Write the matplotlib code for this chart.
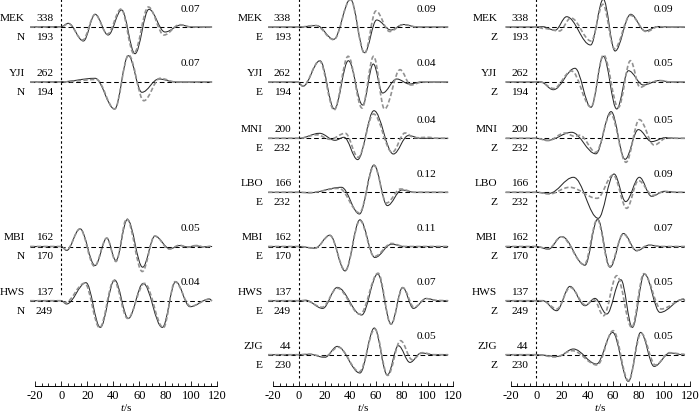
import numpy as np
import matplotlib
matplotlib.use('Agg')
import matplotlib.pyplot as plt
from matplotlib.path import Path
from matplotlib.patches import PathPatch
from matplotlib.ticker import MultipleLocator

plt.rcParams['font.family'] = ['Liberation Serif', 'DejaVu Serif']
plt.rcParams['mathtext.fontset'] = 'custom'
plt.rcParams['mathtext.rm'] = 'Liberation Serif'
plt.rcParams['mathtext.it'] = 'Liberation Serif:italic'
plt.rcParams['axes.unicode_minus'] = False

# ---------------- data ----------------
components = ['N', 'E', 'Z']
stations = ['MEK', 'YJI', 'MNI', 'LBO', 'MBI', 'HWS', 'ZJG']
azimuth = [338, 262, 200, 166, 162, 137, 44]
distance = [193, 194, 232, 232, 170, 249, 230]
col_rows = [[0, 1, 4, 5], [0, 1, 2, 3, 4, 5, 6], [0, 1, 2, 3, 4, 5, 6]]
fit_N = [0.07, 0.07, None, None, 0.05, 0.04, None]
fit_E = [0.09, 0.04, 0.04, 0.12, 0.11, 0.07, 0.05]
fit_Z = [0.09, 0.05, 0.05, 0.09, 0.07, 0.05, 0.05]
time_ticks = [-20, 0, 20, 40, 60, 80, 100, 120]
trace_start = -24.0
trace_end = 116.0

# waveform extrema (t [s], amplitude [px]); obs = dashed grey, syn = solid
MEK_N_obs = [(0, 0), (5.4, 3.3), (16.5, -13), (26, 12.5), (35.5, -7), (46, 18), (55.8, -26.5), (67, 20), (79, -8), (91, 2.3), (100, 0)]
MEK_N_syn = [(0, 0.5), (5.4, 3.7), (17, -14), (26, 12.7), (36, -8), (46.4, 17), (56.7, -26.7), (67.4, 17.7), (79.8, -5), (92, 2), (100, 0)]
YJI_N_obs = [(0, 0), (27, 2.5), (41, -27), (51.8, 27), (63.5, -18.7), (76, 3.7), (88, 0)]
YJI_N_syn = [(0, 0.3), (26, 3.7), (41, -27), (51.6, 26.3), (62, -10.3), (75, 3), (88, 0)]
MBI_N_obs = [(0, 0), (4, -3.5), (14.4, 17.5), (25.5, -19.7), (35, 8.5), (42, -15), (50.3, 27.7), (62.3, -25), (72, 10.5), (83, -2.5), (91, 1.3), (97, -0.8), (104, 1), (110, -0.5), (115, 0.3)]
MBI_N_syn = [(0, 0), (4, -4), (14.4, 17.7), (26, -19), (35, 8.3), (42, -14), (50.8, 27), (62.6, -20.7), (72, 10.3), (83.6, -2.3), (91, 1), (97, -0.5), (103, 0.7), (110, -0.3), (115, 0)]
HWS_N_obs = [(0, 0), (3, -2), (18, 17.5), (29.5, -27), (40.5, 20), (51, -17.7), (64, 17.3), (78.5, -27), (87.5, 19), (99.5, -5.5), (114, 1.5)]
HWS_N_syn = [(0, 0), (4, -3.3), (19, 18), (30, -26.7), (41, 20.7), (51.6, -17.7), (63, 17.3), (77.7, -26.7), (88, 19), (99, -6), (114, 1.7)]

MEK_E_obs = [(0, 0), (13, 1.5), (27, -12.7), (40, 27.5), (51, -26.3), (59.8, 16), (70.5, -4.5), (81, 2.3), (92, 0)]
MEK_E_syn = [(0, 0), (13.7, 1.5), (27, -12.3), (40, 27.7), (51, -25.7), (60.4, 7), (71.5, -3), (81, 2.5), (92, 0)]
YJI_E_obs = [(-1, 0), (3, -4), (16, 21), (27.3, -28), (38.2, 25.7), (49, -26), (58, 25.7), (66.5, -27), (78.6, 12.3), (87, -3), (96, 0)]
YJI_E_syn = [(-1, 0), (3, -4.3), (16.3, 21.3), (27.5, -27), (38.4, 21.3), (49.5, -23), (57.8, 18), (65, -11), (76, 3), (86, -2), (95, 0)]
MNI_E_obs = [(0, 0), (14, 3.5), (24, -1), (36, 5), (46, -19), (58, 24.3), (72.5, -14), (82.4, 5.3), (90, 0.5), (100, 1), (108, 0)]
MNI_E_syn = [(0, 0), (16, 5), (28, -2), (35, 1), (45.6, -21.3), (58.3, 27.6), (73.4, -15.7), (85, 2.7), (95, 0)]
LBO_E_obs = [(0, 0), (8, -0.3), (31, 4), (47, -20.5), (58.5, 26.5), (68, -10.7), (79, 3.3), (90, 0)]
LBO_E_syn = [(0, 0), (8, -0.5), (33, 5), (47, -21.7), (58.3, 27.3), (68.7, -13.3), (80, 2.3), (90, 0)]
MBI_E_obs = [(0, 0), (12.4, -1.7), (24, 11), (36, -24), (47.4, 26), (58.5, -10), (72, 3), (82, 0)]
MBI_E_syn = [(0, 0), (12.4, -1.7), (24, 11.3), (35.8, -24.4), (47.4, 26.7), (59, -11), (72, 2.3), (82, 0)]
HWS_E_obs = [(0, 0), (5, 0), (18, -6.5), (29.8, 12.5), (47.5, -13.5), (61.5, 27.5), (71.6, -23.5), (80.8, 13), (89.5, -6.5), (99, 2), (108, 0.3)]
HWS_E_syn = [(0, 0), (5, 0.5), (18.4, -7.7), (29.8, 13.3), (48.7, -14.3), (61.2, 26.7), (71.6, -23.3), (80.6, 13.3), (89, -7.7), (99, 2.3), (108, 0)]
ZJG_E_obs = [(0, 0), (8, 0.5), (20, -2), (30.5, 7.5), (47, -17), (59, 25.7), (69, -20.7), (79, 14), (88, -5), (96, 2), (105, 0)]
ZJG_E_syn = [(0, 0), (8, 0.5), (20, -2.7), (29.8, 8.3), (47.4, -18.3), (58.6, 26.7), (68.7, -20.3), (77.3, 9), (86.3, -7.7), (95, 1.7), (105, 0)]

MEK_Z_obs = [(0, 0), (6, -1.5), (18, -4), (27, 9), (42.8, -14), (52, 22.7), (61, -21.7), (73.5, 11.7), (86, -4.7), (95, 0.3), (103, 0)]
MEK_Z_syn = [(0, 0), (5, 0.3), (14.6, -3.3), (23.7, 10.3), (42.4, -18), (52.3, 27.7), (61.5, -24), (73.7, 12.7), (85, -4), (95, 0.5), (103, 0)]
YJI_Z_obs = [(0, 0), (3, 0), (13.5, -6.5), (27.5, 11), (42.7, -25), (52.5, 27), (64, -25.5), (73.5, 21.3), (81, -5.3), (90, 0), (96, 1.5), (105, 0)]
YJI_Z_syn = [(0, 0), (3, 0.3), (13.3, -7.7), (30.2, 13.7), (42.7, -25.3), (52.3, 25.7), (62.8, -27), (71.9, 11.3), (83.6, -3), (96, 1.5), (105, 0)]
MNI_Z_obs = [(0, 0), (9, -2.3), (22.4, 5.3), (30, 2), (34, 3), (46.5, -14), (58, 24.3), (70, -24), (80.5, 18.7), (92, -6.7), (102, 0.5), (110, 0)]
MNI_Z_syn = [(0, 0), (9, -2), (27.6, 6), (46.5, -15.5), (58.4, 26.7), (69.3, -21), (79.7, 8.7), (90, -3.3), (101, 0.7), (110, 0)]
LBO_Z_obs = [(0, 0), (10, -1.7), (26, 5), (47.5, -6), (60, 17.3), (70.6, -16), (79.7, 11.7), (91, -3), (100, 0.7), (110, 0)]
LBO_Z_syn = [(0, 0), (10, -1), (29, 15), (48.4, -26), (60.7, 18.3), (69.8, -9.3), (80.5, 15), (90, -4), (100, 1), (110, 0)]
MBI_Z_obs = [(0, 0), (9.4, -2.3), (19.5, 9.7), (37.5, -18), (47.6, 27), (57.2, -20), (68, 12.5), (78, -4), (88, 1.5), (98, 0)]
MBI_Z_syn = [(0, 0), (9.4, -2.7), (19.8, 10), (38, -18.7), (47.9, 27.3), (57.6, -20.7), (68, 13), (78.4, -4.3), (88, 1.3), (98, 0)]
HWS_Z_obs = [(0, 0), (5, 0), (16, -8.3), (26.5, 13.3), (38.5, -4.3), (45, 1), (52.5, -15), (62.8, 25), (74.5, -26.7), (84, 27), (97.5, -8.3), (115, 1.3)]
HWS_Z_syn = [(0, 0), (5, 0), (15.9, -10), (26.3, 14.3), (38, -5), (45.8, 2.3), (55, -13.3), (66, 21), (75, -26.7), (84.4, 26.7), (96.6, -11.7), (115, 1.7)]
ZJG_Z_obs = [(0, 0), (15, -2.3), (28, 4), (47.5, -10.3), (60, 24), (72, -26), (81.8, 21.5), (93, -10.3), (104, 2), (115, 0.5)]
ZJG_Z_syn = [(0, 0), (17, -1.7), (28.9, 5.7), (47, -9.3), (59.6, 22.3), (71.9, -26.7), (81.5, 22.3), (92, -11.7), (104.4, 1.7), (115, 0)]

waves = {
    ('MEK', 'N'): (MEK_N_obs, MEK_N_syn), ('YJI', 'N'): (YJI_N_obs, YJI_N_syn),
    ('MBI', 'N'): (MBI_N_obs, MBI_N_syn), ('HWS', 'N'): (HWS_N_obs, HWS_N_syn),
    ('MEK', 'E'): (MEK_E_obs, MEK_E_syn), ('YJI', 'E'): (YJI_E_obs, YJI_E_syn),
    ('MNI', 'E'): (MNI_E_obs, MNI_E_syn), ('LBO', 'E'): (LBO_E_obs, LBO_E_syn),
    ('MBI', 'E'): (MBI_E_obs, MBI_E_syn), ('HWS', 'E'): (HWS_E_obs, HWS_E_syn),
    ('ZJG', 'E'): (ZJG_E_obs, ZJG_E_syn),
    ('MEK', 'Z'): (MEK_Z_obs, MEK_Z_syn), ('YJI', 'Z'): (YJI_Z_obs, YJI_Z_syn),
    ('MNI', 'Z'): (MNI_Z_obs, MNI_Z_syn), ('LBO', 'Z'): (LBO_Z_obs, LBO_Z_syn),
    ('MBI', 'Z'): (MBI_Z_obs, MBI_Z_syn), ('HWS', 'Z'): (HWS_Z_obs, HWS_Z_syn),
    ('ZJG', 'Z'): (ZJG_Z_obs, ZJG_Z_syn),
}
fits = [fit_N, fit_E, fit_Z]

# ---------------- layout ----------------
W, H = 700, 414
COL_PX = [(35.3, 217.3), (273.3, 453.3), (510.7, 690.0)]   # pixel x of t=-20 and t=120
ROW_Y = [28, 83, 139.3, 193.3, 247.5, 301.7, 355.7]        # pixel y of baselines
VLINE_END = [298, 381, 381]
STATION_X = [-28, -28, -30.5]
NUM_X = -6.3
FIT_X = 91.5
RULER_Y = 386.5
FS = 8.2
K = 0.363


def wave_patch(points, base, **kw):
    pts = [(trace_start, 0.0)] + list(points) + [(trace_end, 0.0)]
    verts = [(pts[0][0], base - pts[0][1])]
    codes = [Path.MOVETO]
    for (t0, a0), (t1, a1) in zip(pts[:-1], pts[1:]):
        d = t1 - t0
        verts += [(t0 + K * d, base - a0), (t1 - K * d, base - a1), (t1, base - a1)]
        codes += [Path.CURVE4] * 3
    return PathPatch(Path(verts, codes), fill=False, **kw)


fig = plt.figure(figsize=(W / 100, H / 100), dpi=100)

for c, comp in enumerate(components):
    l, r = COL_PX[c]
    ax = fig.add_axes([l / W, 0, (r - l) / W, 1])
    ax.set_xlim(-20, 120)
    ax.set_ylim(H, 0)
    ax.axis('off')
    ax.plot([0, 0], [0, VLINE_END[c]], color='black', lw=0.8,
            ls=(0, (2.2, 2.2)), clip_on=False)
    for ri in col_rows[c]:
        base = ROW_Y[ri]
        st = stations[ri]
        ax.plot([trace_start, 115], [base, base], color='black', lw=0.75,
                ls=(0, (4.5, 2.8)), clip_on=False, zorder=2)
        obs, syn = waves[(st, comp)]
        ax.add_patch(wave_patch(syn, base, edgecolor='#2a2a2a', lw=0.75,
                                clip_on=False, zorder=3))
        ax.add_patch(wave_patch(obs, base, edgecolor='#929292', lw=1.2,
                                ls=(0, (2.6, 1.4)), clip_on=False, zorder=4))
        ax.text(STATION_X[c], base - 9.5, st, ha='right', va='center', fontsize=FS, clip_on=False)
        ax.text(NUM_X, base - 9.5, str(azimuth[ri]), ha='right', va='center', fontsize=FS, clip_on=False)
        ax.text(STATION_X[c], base + 9.5, comp, ha='right', va='center', fontsize=FS, clip_on=False)
        ax.text(NUM_X, base + 9.5, str(distance[ri]), ha='right', va='center', fontsize=FS, clip_on=False)
        fv = fits[c][ri]
        if fv is not None:
            ax.text(FIT_X, base - 19, f'{fv:.2f}', ha='left', va='center', fontsize=FS, clip_on=False)

    rax = fig.add_axes([l / W, 1 - RULER_Y / H, (r - l) / W, 0.01])
    rax.patch.set_visible(False)
    for s in ['top', 'left', 'right']:
        rax.spines[s].set_visible(False)
    rax.spines['bottom'].set_linewidth(0.7)
    rax.set_xlim(-20, 120)
    rax.set_yticks([])
    rax.set_xticks(time_ticks)
    rax.set_xticklabels([str(v) for v in time_ticks])
    rax.xaxis.set_minor_locator(MultipleLocator(5))
    rax.tick_params(axis='x', which='major', direction='in', length=3.5, width=0.6,
                    pad=2.2, labelsize=9)
    rax.tick_params(axis='x', which='minor', direction='in', length=2.2, width=0.6)
    rax.set_xlabel('$t$/s', fontsize=8.2, labelpad=0.3)

fig.savefig('out.png', dpi=100)
